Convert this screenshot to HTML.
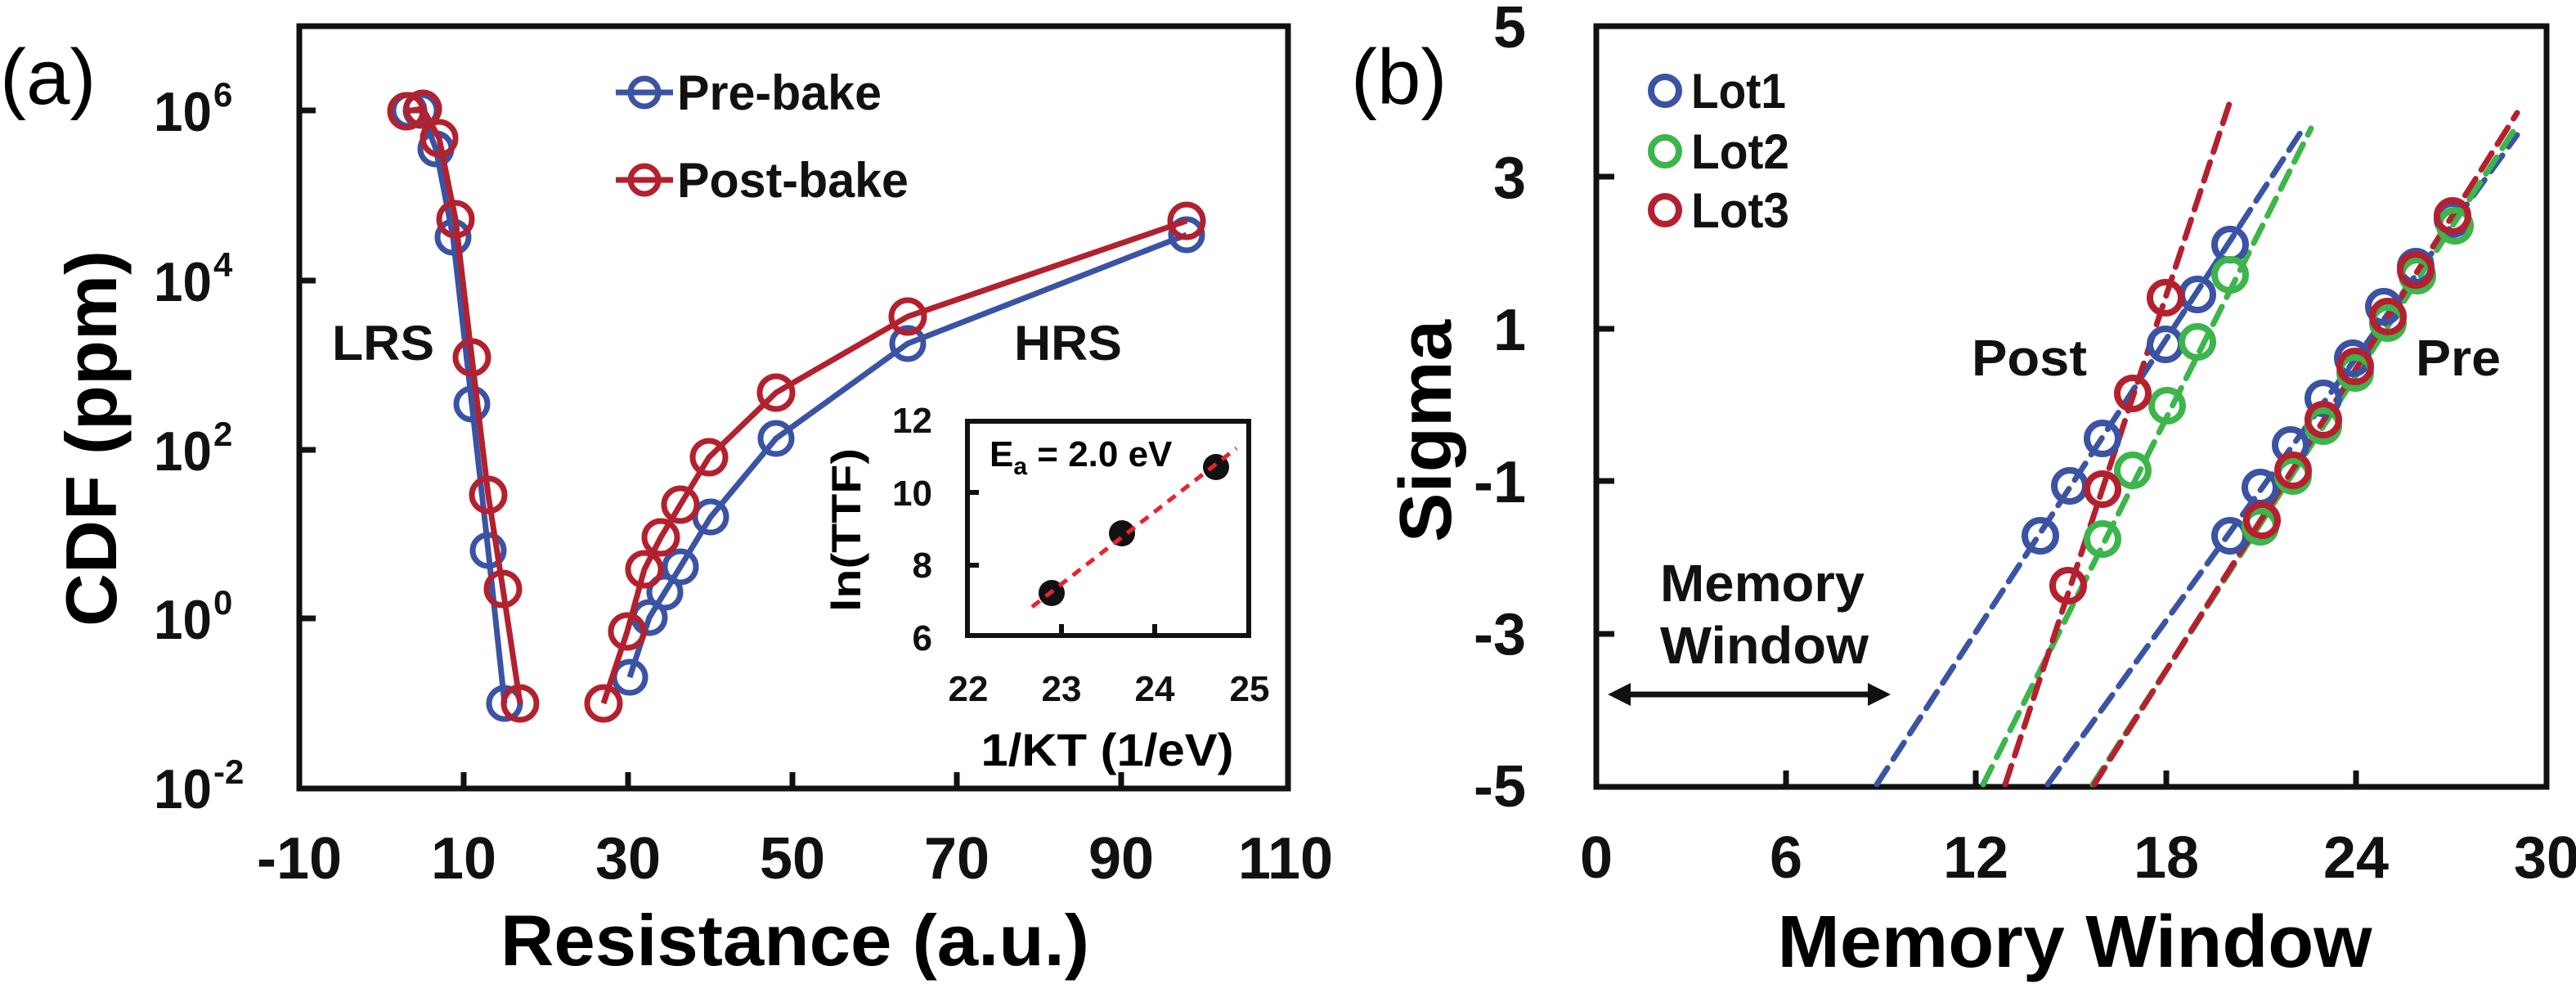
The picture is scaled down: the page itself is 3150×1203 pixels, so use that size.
<!DOCTYPE html>
<html><head><meta charset="utf-8"><style>html,body{margin:0;padding:0;background:#fff}svg{display:block}</style></head>
<body>
<svg width="3150" height="1203" viewBox="0 0 3150 1203" xmlns="http://www.w3.org/2000/svg" font-family="Liberation Sans, Arial, sans-serif">
<rect width="3150" height="1203" fill="#fff"/>
<!-- ================= Panel (a) ================= -->
<text x="0" y="127" font-size="96">(a)</text>
<g fill="none" stroke="#111" stroke-width="7">
<rect x="366" y="32" width="1209" height="932"/>
<path d="M567 964v-20M768 964v-20M969 964v-20M1170 964v-20M1371 964v-20M366 756h20M366 550h20M366 343h20M366 135h20"/>
</g>
<g font-weight="bold" font-size="68" fill="#111">
<text x="188" y="160" textLength="71" lengthAdjust="spacingAndGlyphs">10</text><text x="261" y="130" font-size="42">6</text>
<text x="188" y="368" textLength="71" lengthAdjust="spacingAndGlyphs">10</text><text x="261" y="338" font-size="42">4</text>
<text x="188" y="575" textLength="71" lengthAdjust="spacingAndGlyphs">10</text><text x="261" y="545" font-size="42">2</text>
<text x="188" y="781" textLength="71" lengthAdjust="spacingAndGlyphs">10</text><text x="261" y="751" font-size="42">0</text>
<text x="188" y="988" textLength="71" lengthAdjust="spacingAndGlyphs">10</text><text x="261" y="958" font-size="42">-2</text>
</g>
<g font-weight="bold" font-size="72" text-anchor="middle" fill="#111">
<text x="366" y="1074">-10</text><text x="567" y="1074">10</text><text x="768" y="1074">30</text>
<text x="969" y="1074">50</text><text x="1170" y="1074">70</text><text x="1371" y="1074">90</text><text x="1572" y="1074">110</text>
</g>
<text x="972" y="1180" font-weight="bold" font-size="88" text-anchor="middle" textLength="720" lengthAdjust="spacingAndGlyphs">Resistance (a.u.)</text>
<text transform="translate(142,536) rotate(-90)" font-weight="bold" font-size="88" text-anchor="middle" textLength="460" lengthAdjust="spacingAndGlyphs">CDF (ppm)</text>
<!-- series -->
<g fill="none" stroke-width="7" stroke-linejoin="round">
<polyline stroke="#3a53a4" points="500,135 515,135 533,182 554,290 577,494 597,673 617,860"/>
<polyline stroke="#3a53a4" points="770,828 794,755 813,724 832,693 869,632 949,536 1110,420 1451,287"/>
<g stroke="#3a53a4">
<circle cx="500" cy="135" r="19"/><circle cx="515" cy="135" r="19"/><circle cx="533" cy="182" r="19"/><circle cx="554" cy="290" r="19"/><circle cx="577" cy="494" r="19"/><circle cx="597" cy="673" r="19"/><circle cx="617" cy="860" r="19"/>
<circle cx="770" cy="828" r="19"/><circle cx="794" cy="755" r="19"/><circle cx="813" cy="724" r="19"/><circle cx="832" cy="693" r="19"/><circle cx="869" cy="632" r="19"/><circle cx="949" cy="536" r="19"/><circle cx="1110" cy="420" r="19"/><circle cx="1451" cy="287" r="19"/>
</g>
<polyline stroke="#b3202e" points="497,136 517,133 537,169 557,268 577,437 597,605 615,720 636,860"/>
<polyline stroke="#b3202e" points="738,860 767,772 788,696 808,657 832,617 867,559 949,480 1110,387 1451,270"/>
<g stroke="#b3202e">
<circle cx="497" cy="136" r="20"/><circle cx="517" cy="133" r="20"/><circle cx="537" cy="169" r="20"/><circle cx="557" cy="268" r="20"/><circle cx="577" cy="437" r="20"/><circle cx="597" cy="605" r="20"/><circle cx="615" cy="720" r="20"/><circle cx="636" cy="860" r="20"/>
<circle cx="738" cy="860" r="20"/><circle cx="767" cy="772" r="20"/><circle cx="788" cy="696" r="20"/><circle cx="808" cy="657" r="20"/><circle cx="832" cy="617" r="20"/><circle cx="867" cy="559" r="20"/><circle cx="949" cy="480" r="20"/><circle cx="1110" cy="387" r="20"/><circle cx="1451" cy="270" r="20"/>
</g>
<!-- legend -->
<path d="M753 113h70" stroke="#3a53a4"/><circle cx="788" cy="113" r="17" stroke="#3a53a4"/>
<path d="M753 220h70" stroke="#b3202e"/><circle cx="788" cy="220" r="17" stroke="#b3202e"/>
</g>
<g font-weight="bold" font-size="60" fill="#111">
<text x="828" y="134" textLength="250" lengthAdjust="spacingAndGlyphs">Pre-bake</text>
<text x="828" y="241" textLength="283" lengthAdjust="spacingAndGlyphs">Post-bake</text>
<text x="406" y="440" textLength="125" lengthAdjust="spacingAndGlyphs">LRS</text>
<text x="1240" y="440" textLength="132" lengthAdjust="spacingAndGlyphs">HRS</text>
</g>
<!-- inset -->
<g fill="none" stroke="#111" stroke-width="6">
<rect x="1183" y="515" width="344" height="262"/>
<path d="M1298 777v-14M1412 777v-14M1183 602h14M1183 691h14"/>
</g>
<g font-weight="bold" font-size="44" fill="#111" text-anchor="end">
<text x="1140" y="529">12</text><text x="1140" y="618">10</text><text x="1140" y="706">8</text><text x="1140" y="795">6</text>
</g>
<g font-weight="bold" font-size="44" fill="#111" text-anchor="middle">
<text x="1184" y="857">22</text><text x="1298" y="857">23</text><text x="1412" y="857">24</text><text x="1528" y="857">25</text>
</g>
<text x="1354" y="936" font-weight="bold" font-size="56" text-anchor="middle" textLength="309" lengthAdjust="spacingAndGlyphs">1/KT (1/eV)</text>
<text transform="translate(1052,648) rotate(-90)" font-weight="bold" font-size="50" text-anchor="middle" textLength="200" lengthAdjust="spacingAndGlyphs">ln(TTF)</text>
<text x="1210" y="570" font-weight="bold" font-size="44">E<tspan font-size="30" dy="10">a</tspan><tspan dy="-10"> = 2.0 eV</tspan></text>
<g fill="#111"><circle cx="1286" cy="725" r="16"/><circle cx="1372" cy="652" r="16"/><circle cx="1487" cy="571" r="16"/></g>
<path d="M1262 742L1512 548" stroke="#e8232e" stroke-width="5" stroke-dasharray="12 9" fill="none"/>

<!-- ================= Panel (b) ================= -->
<text x="1652" y="127" font-size="96">(b)</text>
<g fill="none" stroke="#111" stroke-width="7">
<rect x="1952" y="32" width="1162" height="930"/>
<path d="M2184 962v-20M2416 962v-20M2649 962v-20M2881 962v-20M1952 216h22M1952 402h22M1952 588h22M1952 775h22"/>
</g>
<g font-weight="bold" font-size="72" text-anchor="end" fill="#111">
<text x="1866" y="58">5</text><text x="1866" y="242">3</text><text x="1866" y="428">1</text>
<text x="1866" y="614">-1</text><text x="1866" y="800">-3</text><text x="1866" y="986">-5</text>
</g>
<g font-weight="bold" font-size="72" text-anchor="middle" fill="#111">
<text x="1952" y="1073">0</text><text x="2184" y="1073">6</text><text x="2416" y="1073">12</text>
<text x="2649" y="1073">18</text><text x="2881" y="1073">24</text><text x="3114" y="1073">30</text>
</g>
<text x="2537" y="1182" font-weight="bold" font-size="90" text-anchor="middle" textLength="727" lengthAdjust="spacingAndGlyphs">Memory Window</text>
<text transform="translate(1774,527) rotate(-90)" font-weight="bold" font-size="90" text-anchor="middle" textLength="272" lengthAdjust="spacingAndGlyphs">Sigma</text>
<!-- dashed fits -->
<g fill="none" stroke-width="7" stroke-dasharray="24 13" stroke-linecap="round">
<path d="M2295 959L2819 153" stroke="#3a53a4"/>
<path d="M2425 959L2826 157" stroke="#3cb54a"/>
<path d="M2452 959L2727 124" stroke="#b5202f"/>
<path d="M2504 959L3078 165" stroke="#3a53a4"/>
<path d="M2559 959L3073 161" stroke="#3cb54a"/>
<path d="M2561 959L3078 138" stroke="#b5202f"/>
</g>
<g fill="none" stroke-width="8">
<g stroke="#3a53a4">
<circle cx="2495" cy="655" r="19"/><circle cx="2531" cy="594" r="19"/><circle cx="2571" cy="536" r="19"/><circle cx="2648" cy="421" r="19"/><circle cx="2687" cy="360" r="19"/><circle cx="2727" cy="299" r="19"/>
<circle cx="2727" cy="655" r="19"/><circle cx="2764" cy="596" r="19"/><circle cx="2801" cy="544" r="19"/><circle cx="2841" cy="487" r="19"/><circle cx="2877" cy="438" r="19"/><circle cx="2915" cy="375" r="19"/><circle cx="2954" cy="326" r="19"/><circle cx="2999" cy="268" r="19"/>
</g>
<g stroke="#3cb54a">
<circle cx="2571" cy="659" r="19"/><circle cx="2608" cy="575" r="19"/><circle cx="2650" cy="496" r="19"/><circle cx="2687" cy="418" r="19"/><circle cx="2727" cy="336" r="19"/>
<circle cx="2764" cy="644" r="19"/><circle cx="2804" cy="582" r="19"/><circle cx="2841" cy="521" r="19"/><circle cx="2880" cy="456" r="19"/><circle cx="2920" cy="395" r="19"/><circle cx="2956" cy="337" r="19"/><circle cx="3002" cy="276" r="19"/>
</g>
<g stroke="#b5202f">
<circle cx="2529" cy="716" r="19"/><circle cx="2571" cy="598" r="19"/><circle cx="2608" cy="481" r="19"/><circle cx="2648" cy="364" r="19"/>
<circle cx="2766" cy="636" r="19"/><circle cx="2804" cy="575" r="19"/><circle cx="2841" cy="513" r="19"/><circle cx="2880" cy="448" r="19"/><circle cx="2920" cy="387" r="19"/><circle cx="2954" cy="330" r="19"/><circle cx="2999" cy="264" r="19"/>
</g>
<circle cx="2036" cy="111" r="17" stroke="#3a53a4"/>
<circle cx="2036" cy="185" r="17" stroke="#3cb54a"/>
<circle cx="2036" cy="257" r="17" stroke="#b5202f"/>
</g>
<g font-weight="bold" font-size="60" fill="#111">
<text x="2068" y="132" textLength="116" lengthAdjust="spacingAndGlyphs">Lot1</text>
<text x="2068" y="206" textLength="120" lengthAdjust="spacingAndGlyphs">Lot2</text>
<text x="2068" y="278" textLength="120" lengthAdjust="spacingAndGlyphs">Lot3</text>
<text x="2411" y="459" font-size="62" textLength="141" lengthAdjust="spacingAndGlyphs">Post</text>
<text x="2954" y="459" font-size="62" textLength="104" lengthAdjust="spacingAndGlyphs">Pre</text>
<text x="2030" y="735" font-size="64" textLength="250" lengthAdjust="spacingAndGlyphs">Memory</text>
<text x="2030" y="811" font-size="64" textLength="255" lengthAdjust="spacingAndGlyphs">Window</text>
</g>
<path d="M1990 849H2290" stroke="#111" stroke-width="7"/>
<path d="M1966 849L1994 835V863Z M2312 849L2284 835V863Z" fill="#111"/>
</svg>
</body></html>
